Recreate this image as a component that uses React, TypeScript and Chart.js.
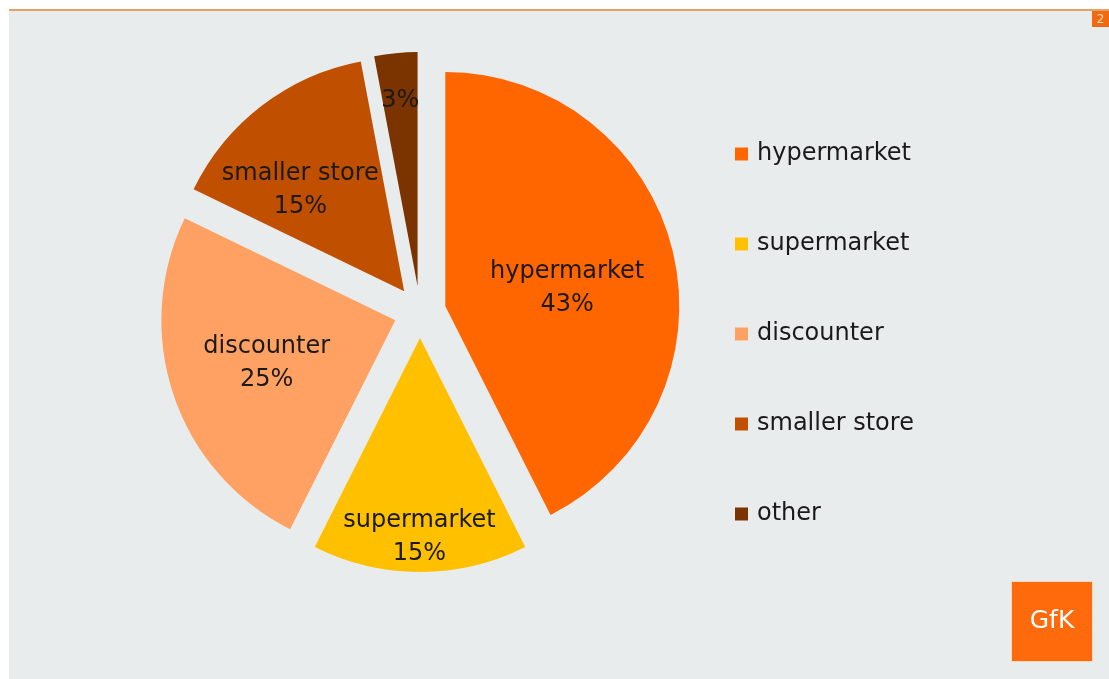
import React, { useEffect, useRef } from 'react';
import { Chart, registerables } from 'chart.js';

Chart.register(...registerables);

const categories = ['hypermarket', 'supermarket', 'discounter', 'smaller store', 'other'];
const shares = [43, 15, 25, 15, 3];
const showCategoryInLabel = [true, true, true, true, false];
const sliceColors = ['#FF6600', '#FFC000', '#FFA162', '#C05000', '#7B3300'];

const FONT = '"DejaVu Sans", Verdana, sans-serif';

const explodePlugin = {
  id: 'explode',
  afterDatasetUpdate(chart: any, args: any, opts: any) {
    const meta = chart.getDatasetMeta(args.index);
    const d = opts.distance || 0;
    meta.data.forEach((arc: any) => {
      const mid = (arc.startAngle + arc.endAngle) / 2;
      arc.x += Math.cos(mid) * d;
      arc.y += Math.sin(mid) * d;
    });
  },
};

const sliceLabelPlugin = {
  id: 'sliceLabels',
  afterDatasetsDraw(chart: any, _args: any, opts: any) {
    const ctx = chart.ctx;
    const meta = chart.getDatasetMeta(0);
    const ds = chart.data.datasets[0];
    ctx.save();
    ctx.font = `${opts.fontSize}px ${FONT}`;
    ctx.fillStyle = opts.color;
    ctx.textAlign = 'center';
    ctx.textBaseline = 'middle';
    meta.data.forEach((arc: any, i: number) => {
      const ang = arc.startAngle + (arc.endAngle - arc.startAngle) * opts.angleFractions[i];
      const r = arc.outerRadius * opts.radiusFractions[i];
      const x = arc.x + Math.cos(ang) * r;
      const y = arc.y + Math.sin(ang) * r;
      const pct = `${ds.data[i]}%`;
      if (showCategoryInLabel[i]) {
        ctx.fillText(chart.data.labels[i], x, y - opts.lineHeight / 2);
        ctx.fillText(pct, x, y + opts.lineHeight / 2);
      } else {
        ctx.fillText(pct, x, y);
      }
    });
    ctx.restore();
  },
};

const sideLegendPlugin = {
  id: 'sideLegend',
  afterDraw(chart: any, _args: any, opts: any) {
    const ctx = chart.ctx;
    const ds = chart.data.datasets[0];
    ctx.save();
    ctx.font = `${opts.fontSize}px ${FONT}`;
    ctx.textAlign = 'left';
    ctx.textBaseline = 'middle';
    chart.data.labels.forEach((label: string, i: number) => {
      const y = opts.top + i * opts.step;
      ctx.fillStyle = ds.backgroundColor[i];
      ctx.fillRect(opts.left, y - opts.box / 2, opts.box, opts.box);
      ctx.fillStyle = opts.color;
      ctx.fillText(label, opts.left + opts.box + opts.gap, y);
    });
    ctx.restore();
  },
};

function PieChart() {
  const ref = useRef<HTMLCanvasElement | null>(null);
  useEffect(() => {
    if (!ref.current) return;
    const chart = new Chart(ref.current, {
      type: 'pie',
      data: {
        labels: categories,
        datasets: [
          {
            data: shares,
            backgroundColor: sliceColors,
            borderWidth: 0,
          },
        ],
      },
      options: {
        responsive: false,
        animation: false,
        radius: 234,
        layout: { padding: { left: 160, right: 429, top: 52, bottom: 107 } },
        plugins: {
          legend: { display: false },
          tooltip: { enabled: false },
          explode: { distance: 26 },
          sliceLabels: {
            fontSize: 24,
            lineHeight: 33,
            color: '#1a1a1a',
            radiusFractions: [0.526, 0.85, 0.579, 0.618, 0.795],
            angleFractions: [0.534, 0.503, 0.505, 0.341, 0.5],
          },
          sideLegend: {
            left: 735,
            top: 154,
            step: 90,
            box: 13,
            gap: 9,
            fontSize: 24,
            color: '#1a1a1a',
          },
        } as any,
      },
      plugins: [explodePlugin, sliceLabelPlugin, sideLegendPlugin],
    });
    return () => chart.destroy();
  }, []);
  return (
    <canvas
      ref={ref}
      width={1109}
      height={679}
      style={{ position: 'absolute', left: 0, top: 0, width: 1109, height: 679 }}
    />
  );
}

export default function App() {
  return (
    <div
      style={{
        position: 'fixed',
        left: 0,
        top: 0,
        width: 1109,
        height: 679,
        background: '#ffffff',
        overflow: 'hidden',
        fontFamily: FONT,
      }}
    >
      <div style={{ position: 'absolute', left: 9, top: 11, width: 1100, height: 668, background: '#E9ECEC' }} />
      <div style={{ position: 'absolute', left: 9, top: 9, width: 1100, height: 2, background: '#E3A366' }} />
      <div
        style={{
          position: 'absolute',
          left: 1092,
          top: 11,
          width: 17,
          height: 16,
          background: '#F26A10',
          color: '#FCD9BC',
          fontSize: 12,
          lineHeight: '16px',
          textAlign: 'center',
        }}
      >
        2
      </div>
      <PieChart />
      <div
        style={{
          position: 'absolute',
          left: 1012,
          top: 582,
          width: 80,
          height: 79,
          background: '#FF6A0C',
          color: '#FFFFFF',
          fontSize: 25,
          lineHeight: '76px',
          textAlign: 'center',
          boxShadow: '0 0 0 1px #F7D9C0',
        }}
      >
        GfK
      </div>
    </div>
  );
}
